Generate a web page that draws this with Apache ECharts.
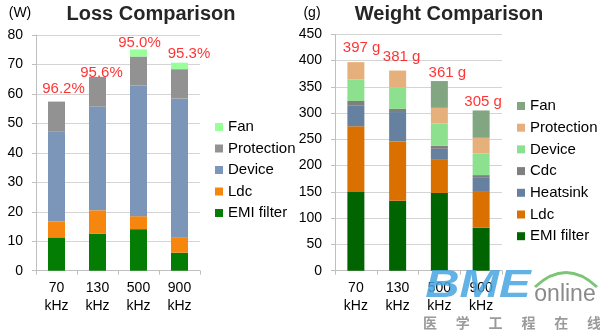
<!DOCTYPE html>
<html><head><meta charset="utf-8">
<script src="https://cdn.jsdelivr.net/npm/echarts@6/dist/echarts.min.js"></script>
<style>html,body{margin:0;padding:0;background:#fff}#c{width:600px;height:332px}</style>
</head><body><div id="c"></div>
<script>
// ---- data ----
const categories = ['70\nkHz', '130\nkHz', '500\nkHz', '900\nkHz'];

// Loss comparison (W)
const lossEMI = [11.3, 12.6, 14.1, 6.1];
const lossLdc = [5.4, 7.9, 4.4, 5.3];
const lossDevice = [30.6, 35.2, 44.3, 47.0];
const lossProtection = [10.1, 10.1, 9.9, 10.0];
const lossFan = [0, 0, 2.4, 2.2];
const lossEfficiency = ['96.2%', '95.6%', '95.0%', '95.3%'];
const lossTicks = [0, 10, 20, 30, 40, 50, 60, 70, 80];

// Weight comparison (g)
const wEMI = [150, 133, 148, 82];
const wLdc = [125, 113, 63, 68];
const wHeatsink = [39, 56, 21, 28];
const wCdc = [9, 6, 6, 4];
const wDevice = [41, 41, 42, 41];
const wProtection = [33, 32, 30, 30];
const wFan = [0, 0, 51, 52];
const wTotals = ['397 g', '381 g', '361 g', '305 g'];
const weightTicks = [0, 50, 100, 150, 200, 250, 300, 350, 400, 450];

// watermark text
const wmChars = ['医', '学', '工', '程', '在', '线'];

// ---- layout / style ----
const FONT = "'Liberation Sans', Arial, sans-serif";
const lossLabelNudge = [[7, -5], [4, 4], [1, 1], [9.5, -1]];
const weightLabelNudge = [[5.7, -6], [4, -6], [8, 0], [2, -1]];

function sumStacks(arrs) {
  return arrs[0].map((_, i) => arrs.reduce((s, a) => s + a[i], 0));
}
const lossTop = sumStacks([lossEMI, lossLdc, lossDevice, lossProtection, lossFan]);
const weightTop = sumStacks([wEMI, wLdc, wHeatsink, wCdc, wDevice, wProtection, wFan]);

const axisGrey = '#bfbfbf';
function xAx(gi) {
  return {
    type: 'category', gridIndex: gi, data: categories,
    axisLine: { lineStyle: { color: axisGrey } },
    axisTick: { show: true, length: 4, lineStyle: { color: axisGrey } },
    axisLabel: { color: '#000', fontSize: 14, fontFamily: FONT, lineHeight: 18, margin: 8, interval: 0 }
  };
}
function yAx(gi, max, interval) {
  return {
    type: 'value', gridIndex: gi, min: 0, max: max, interval: interval,
    axisLine: { show: true, lineStyle: { color: axisGrey } },
    axisTick: { show: true, length: 4, lineStyle: { color: axisGrey } },
    splitLine: { lineStyle: { color: '#d4d4d4' } },
    axisLabel: { color: '#000', fontSize: 14, fontFamily: FONT, margin: 13 }
  };
}
function bar(name, data, color, gi, stack) {
  return {
    type: 'bar', name: name, data: data, stack: stack,
    xAxisIndex: gi, yAxisIndex: gi, barWidth: 17,
    itemStyle: { color: color }, emphasis: { disabled: true }
  };
}
function labelSeries(gi, tops, texts, nudge) {
  return {
    type: 'scatter', xAxisIndex: gi, yAxisIndex: gi,
    symbolSize: 1, itemStyle: { color: 'rgba(0,0,0,0)' }, silent: true,
    data: tops.map((v, i) => ({
      value: v,
      label: { show: true, position: 'top', distance: 0, offset: nudge[i], formatter: texts[i] }
    })),
    label: { color: '#ff0000', fontSize: 15, fontFamily: FONT }
  };
}

const option = {
  animation: false,
  textStyle: { fontFamily: FONT },
  grid: [
    { left: 36, top: 35, width: 164, bottom: 61.3 },
    { left: 335, top: 34.3, width: 167, bottom: 61.3 }
  ],
  xAxis: [xAx(0), xAx(1)],
  yAxis: [yAx(0, 80, 10), yAx(1, 450, 50)],
  legend: [
    {
      orient: 'vertical', left: 215, top: 119.5, padding: 0, itemWidth: 8, itemHeight: 8, itemGap: 6.5,
      icon: 'rect', selectedMode: false,
      textStyle: { fontSize: 15, color: '#000', fontFamily: FONT },
      data: ['Fan', 'Protection', 'Device', 'Ldc', 'EMI filter']
    },
    {
      orient: 'vertical', left: 517, top: 98.5, padding: 0, itemWidth: 8, itemHeight: 8, itemGap: 6.7,
      icon: 'rect', selectedMode: false,
      textStyle: { fontSize: 15, color: '#000', fontFamily: FONT },
      data: ['Fan ', 'Protection ', 'Device ', 'Cdc', 'Heatsink', 'Ldc ', 'EMI filter ']
    }
  ],
  series: [
    bar('EMI filter', lossEMI, '#037d03', 0, 'loss'),
    bar('Ldc', lossLdc, '#f7860f', 0, 'loss'),
    bar('Device', lossDevice, '#7b96b9', 0, 'loss'),
    bar('Protection', lossProtection, '#929292', 0, 'loss'),
    bar('Fan', lossFan, '#99ff99', 0, 'loss'),
    labelSeries(0, lossTop, lossEfficiency, lossLabelNudge),

    bar('EMI filter ', wEMI, '#006400', 1, 'w'),
    bar('Ldc ', wLdc, '#d97000', 1, 'w'),
    bar('Heatsink', wHeatsink, '#6680a0', 1, 'w'),
    bar('Cdc', wCdc, '#7f7f7f', 1, 'w'),
    bar('Device ', wDevice, '#8de08d', 1, 'w'),
    bar('Protection ', wProtection, '#e6b07c', 1, 'w'),
    bar('Fan ', wFan, '#82a682', 1, 'w'),
    labelSeries(1, weightTop, wTotals, weightLabelNudge)
  ],
  graphic: [
    { type: 'text', x: 151, y: 14, style: { text: 'Loss Comparison', font: 'bold 20px ' + FONT, fill: '#262626', textAlign: 'center', textVerticalAlign: 'middle' } },
    { type: 'text', x: 449, y: 14, style: { text: 'Weight Comparison', font: 'bold 20px ' + FONT, fill: '#262626', textAlign: 'center', textVerticalAlign: 'middle' } },
    { type: 'text', x: 20, y: 13, style: { text: '(W)', font: '14px ' + FONT, fill: '#000', textAlign: 'center', textVerticalAlign: 'middle' } },
    { type: 'text', x: 312, y: 13, style: { text: '(g)', font: '14px ' + FONT, fill: '#000', textAlign: 'center', textVerticalAlign: 'middle' } },
    // watermark
    { type: 'text', x: 478, y: 287, scaleX: 1.25, originX: 0, originY: 0, z: 100, style: { text: 'BME', font: 'italic bold 38px ' + FONT, fill: 'rgba(70,165,225,0.85)', textAlign: 'center', textVerticalAlign: 'middle' } },
    { type: 'text', x: 565, y: 295, z: 100, style: { text: 'online', font: '23px ' + FONT, fill: '#8a8a8a', textAlign: 'center', textVerticalAlign: 'middle' } },
    { type: 'bezierCurve', z: 100, shape: { x1: 535, y1: 287, x2: 597, y2: 287, cpx1: 566, cpy1: 258 }, style: { stroke: '#7cc576', lineWidth: 3, fill: null } }
  ].concat(wmChars.map((ch, i) => ({
    type: 'text', x: 430 + i * 32.8, y: 323, z: 100,
    style: { text: ch, font: 'bold 14px "Noto Sans CJK SC"', fill: '#9a9a9a', textAlign: 'center', textVerticalAlign: 'middle' }
  })))
};
const chart = echarts.init(document.getElementById('c'), null, { renderer: 'canvas' });
chart.setOption(option);
</script></body></html>
